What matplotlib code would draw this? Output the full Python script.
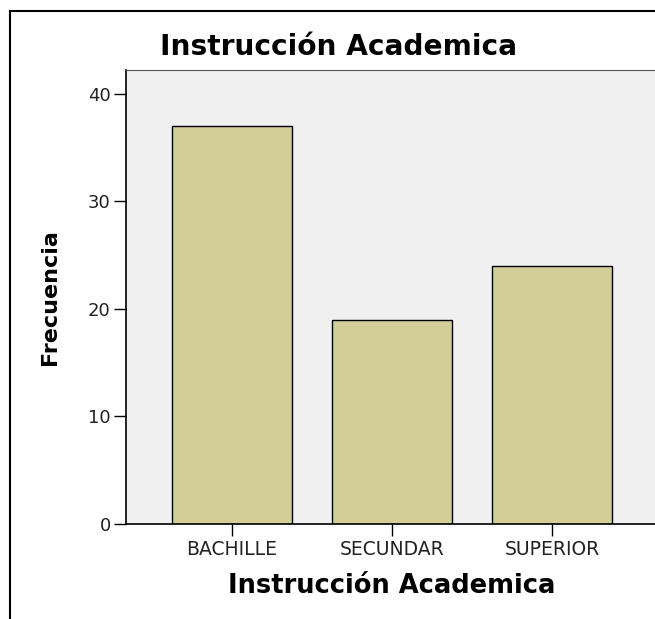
import matplotlib
matplotlib.use("Agg")
import matplotlib.pyplot as plt
from matplotlib.lines import Line2D

categorias = ["BACHILLE", "SECUNDAR", "SUPERIOR"]
frecuencias = [37, 19, 24]
yticks = [0, 10, 20, 30, 40]

W, H = 655, 619
fig = plt.figure(figsize=(W / 100, H / 100), dpi=100)

# marco exterior (solo izquierda y arriba visibles)
fig.add_artist(Line2D([10 / W, 10 / W], [0, 1 - 11 / H], color="black", lw=1.5))
fig.add_artist(Line2D([10 / W, 1], [1 - 11 / H, 1 - 11 / H], color="black", lw=1.5))

ax = fig.add_axes([126 / W, 95 / H, 532 / W, 454 / H])
ax.set_facecolor("#F0F0F0")
x = range(len(categorias))
ax.bar(x, frecuencias, width=0.75, color="#D3CE98", edgecolor="black", linewidth=1.0)
ax.set_xlim(-0.6625, 2.6625)
ax.set_ylim(0, 42.2)
ax.set_xticks(list(x))
ax.set_xticklabels(categorias, color="#222222")
ax.set_yticks(yticks)
ax.set_yticklabels([str(v) for v in yticks], color="#222222")
ax.tick_params(axis="y", length=9, width=1, labelsize=13, pad=2)
ax.tick_params(axis="x", length=8.5, width=1, labelsize=13.5, pad=3)
ax.spines["right"].set_visible(False)
ax.spines["top"].set_color("#555555")
for s in ["left", "bottom"]:
    ax.spines[s].set_linewidth(1.2)

ax.set_ylabel("Frecuencia", fontsize=16, fontweight="bold", labelpad=20)
ax.set_xlabel("Instrucción Academica", fontsize=18.5, fontweight="bold", labelpad=10)
fig.text(160 / W, 1 - 47 / H, "Instrucción Academica", fontsize=20.2, fontweight="bold",
         ha="left", va="center")

fig.savefig("out.png", dpi=100)
